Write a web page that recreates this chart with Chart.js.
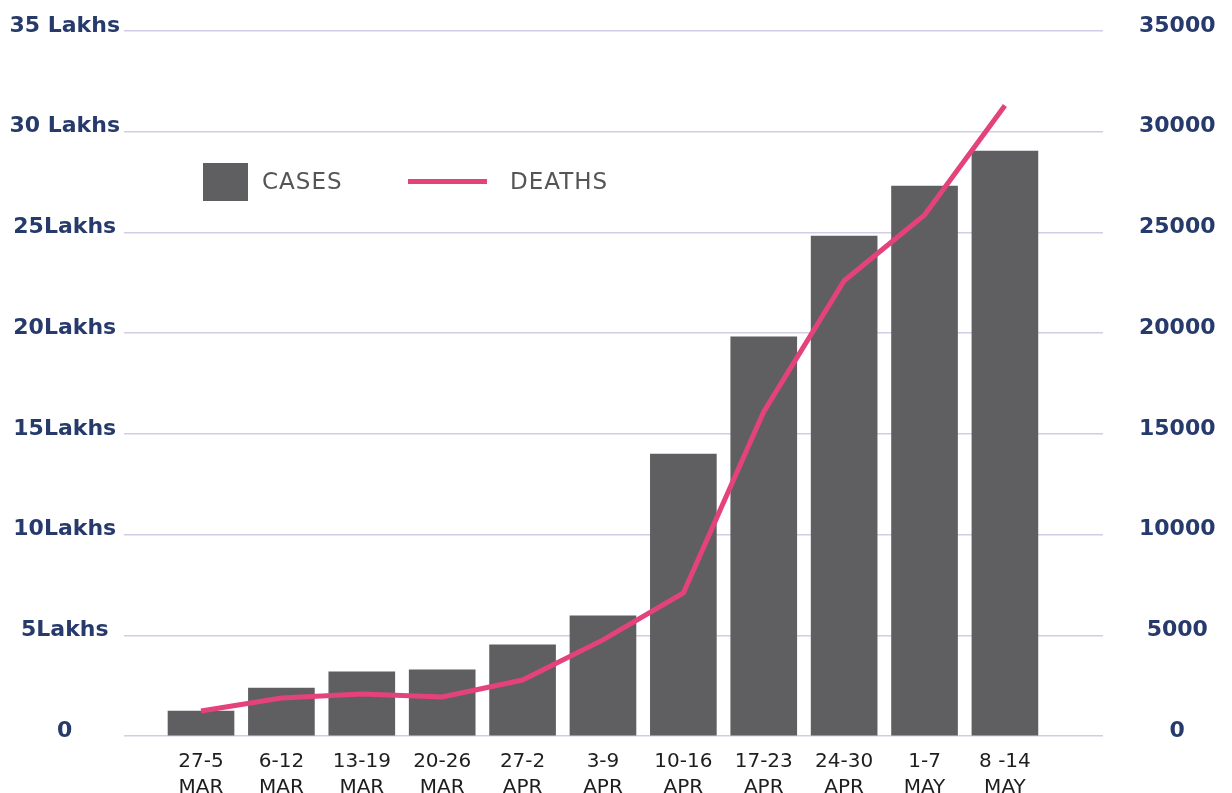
<!DOCTYPE html>
<html>
<head>
<meta charset="utf-8">
<script src="https://cdn.jsdelivr.net/npm/chart.js@4/dist/chart.umd.min.js"></script>
<style>
  body { margin: 0; background: #fff; }
  #wrap { position: relative; width: 1232px; height: 793px; overflow: hidden; }
  .legend { position: absolute; font-family: "DejaVu Sans", sans-serif; font-size: 23px; color: #555; letter-spacing: 1px; line-height: 1; }
</style>
</head>
<body>
<div id="wrap">
  <canvas id="myChart" width="1232" height="793"></canvas>
  <div class="legend" style="left:203px;top:163px;width:45px;height:38px;background:#5f5f61"></div>
  <div class="legend" style="left:262px;top:170px">CASES</div>
  <div class="legend" style="left:408px;top:179px;width:79px;height:5px;background:#e4427a"></div>
  <div class="legend" style="left:510px;top:170px">DEATHS</div>
</div>
<script>
var weeks = ['27-5', '6-12', '13-19', '20-26', '27-2', '3-9', '10-16', '17-23', '24-30', '1-7', '8 -14'];
var months = ['MAR', 'MAR', 'MAR', 'MAR', 'APR', 'APR', 'APR', 'APR', 'APR', 'MAY', 'MAY'];
var cases = [124000, 238000, 319000, 328000, 453000, 597000, 1400000, 1982000, 2482000, 2730000, 2904000];
var deaths = [1240, 1890, 2090, 1940, 2780, 4770, 7100, 16100, 22600, 25870, 31300];
var leftTicks = ['0', '5Lakhs', '10Lakhs', '15Lakhs', '20Lakhs', '25Lakhs', '30 Lakhs', '35 Lakhs'];

var navy = '#263a6b';
var gridColor = '#d4cce6';

var ctx = document.getElementById('myChart').getContext('2d');
var chart = new Chart(ctx, {
  data: {
    datasets: [{
      type: 'line',
      label: 'DEATHS',
      data: deaths.map(function (v, i) { return { x: i, y: v }; }),
      yAxisID: 'y2',
      borderColor: '#e4427a',
      borderWidth: 5,
      pointRadius: 0,
      tension: 0,
      order: 0
    }, {
      type: 'bar',
      label: 'CASES',
      data: cases.map(function (v, i) { return { x: i, y: v }; }),
      yAxisID: 'y',
      backgroundColor: '#5f5f61',
      barThickness: 66,
      order: 1
    }]
  },
  options: {
    responsive: false,
    animation: false,
    layout: { padding: { top: 31, left: 0, right: 0, bottom: 0 } },
    plugins: { legend: { display: false }, tooltip: { enabled: false } },
    scales: {
      x: {
        type: 'linear',
        min: -0.958,
        max: 11.22,
        offset: false,
        grid: { display: false },
        border: { display: false },
        ticks: {
          stepSize: 1,
          includeBounds: false,
          autoSkip: false,
          maxRotation: 0,
          padding: 5,
          color: '#1e1e1e',
          font: { family: 'DejaVu Sans', size: 20, lineHeight: 1.3 },
          callback: function (v) {
            if (Number.isInteger(v) && weeks[v] !== undefined) return [weeks[v], months[v]];
            return '';
          }
        },
        afterFit: function (s) { s.height = 57; }
      },
      y: {
        position: 'left',
        min: 0,
        max: 3500000,
        grid: { color: gridColor, lineWidth: 1.5, drawTicks: false },
        border: { display: false },
        ticks: {
          stepSize: 500000,
          crossAlign: 'center',
          padding: 4,
          labelOffset: -5,
          color: navy,
          font: { family: 'DejaVu Sans', size: 22, weight: 'bold' },
          callback: function (v, i) { return leftTicks[i]; }
        },
        afterFit: function (s) { s.width = 124; s.paddingTop = 0; s.paddingBottom = 0; }
      },
      y2: {
        position: 'right',
        min: 0,
        max: 35000,
        grid: { display: false },
        border: { display: false },
        ticks: {
          stepSize: 5000,
          crossAlign: 'center',
          padding: 28,
          labelOffset: -5,
          color: navy,
          font: { family: 'DejaVu Sans', size: 22, weight: 'bold' },
          callback: function (v) { return String(v); }
        },
        afterFit: function (s) { s.width = 129; s.paddingTop = 0; s.paddingBottom = 0; }
      }
    }
  }
});
</script>
</body>
</html>
